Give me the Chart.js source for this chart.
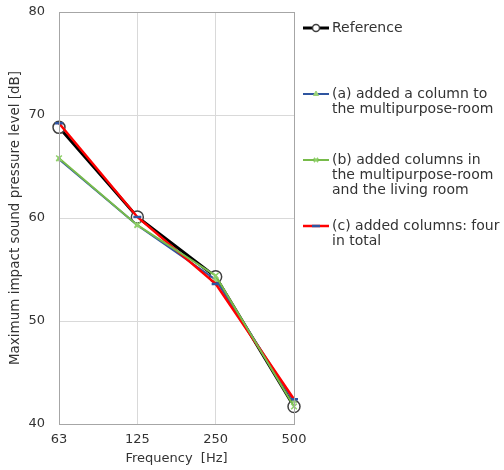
<!DOCTYPE html>
<html>
<head>
<meta charset="utf-8">
<script src="https://cdn.jsdelivr.net/npm/chart.js@4.4.1/dist/chart.umd.min.js"></script>
<style>
  html, body { margin: 0; padding: 0; background: #fff; }
</style>
</head>
<body>
<canvas id="myChart" width="504" height="470"></canvas>
<script>
const ctx = document.getElementById("myChart").getContext("2d");

// Values
const frequencies = ["63", "125", "250", "500"];
const reference = [68.8, 60.1, 54.3, 41.7];
const colA = [65.7, 59.3, 54.0, 42.2];
const colB = [65.8, 59.3, 54.4, 41.7];
const colC = [69.2, 60.1, 53.6, 42.4];

const legendLines = [
  ["Reference"],
  ["(a) added a column to", "the multipurpose-room"],
  ["(b) added columns in", "the multipurpose-room", "and the living room"],
  ["(c) added columns: four", "in total"],
];

const FONT = "DejaVu Sans";
const TEXT = "#333";

// legend on the right, drawn next to the plot area
const sideLegend = {
  id: "sideLegend",
  afterDraw(chart) {
    const c = chart.ctx;
    const area = chart.chartArea;
    const x0 = area.right + 9;
    c.save();
    c.font = "14px '" + FONT + "'";
    c.textBaseline = "middle";
    chart.data.datasets.forEach((ds, i) => {
      const y = area.top + 16 + i * 66;
      c.strokeStyle = ds.borderColor;
      c.lineWidth = ds.borderWidth;
      c.beginPath();
      c.moveTo(x0, y);
      c.lineTo(x0 + 26, y);
      c.stroke();
      c.fillStyle = ds.pointBackgroundColor;
      c.strokeStyle = ds.pointBorderColor;
      c.lineWidth = ds.pointBorderWidth;
      Chart.helpers.drawPoint(c, {
        pointStyle: ds.pointStyle,
        radius: ds.legendRadius,
        borderWidth: ds.pointBorderWidth,
      }, x0 + 13, y);
      c.fillStyle = TEXT;
      legendLines[i].forEach((t, k) => {
        c.fillText(t, x0 + 29, y + k * 15);
      });
    });
    c.restore();
  },
};

// box round the plot area
const frame = {
  id: "frame",
  afterDatasetsDraw(chart) {
    const a = chart.chartArea;
    const c = chart.ctx;
    c.save();
    c.strokeStyle = "#a6a6a6";
    c.lineWidth = 1;
    c.strokeRect(a.left + 0.5, a.top + 0.5, a.right - a.left, a.bottom - a.top);
    c.restore();
  },
};

const data = {
  labels: frequencies,
  datasets: [
    {
      label: "Reference",
      data: reference,
      borderColor: "#000000",
      borderWidth: 3,
      pointStyle: "circle",
      pointRadius: 6,
      legendRadius: 3.5,
      pointBackgroundColor: "#ffffff",
      pointBorderColor: "#404040",
      pointBorderWidth: 1.5,
      order: 3,
    },
    {
      label: "(a)",
      data: colA,
      borderColor: "#2f55a0",
      borderWidth: 2,
      pointStyle: "triangle",
      pointRadius: 3,
      legendRadius: 3,
      pointBackgroundColor: "#9bd27a",
      pointBorderColor: "#9bd27a",
      pointBorderWidth: 1,
      order: 2,
    },
    {
      label: "(b)",
      data: colB,
      borderColor: "#77bb4a",
      borderWidth: 2,
      pointStyle: "crossRot",
      pointRadius: 4,
      legendRadius: 3,
      pointBackgroundColor: "#8fd06a",
      pointBorderColor: "#8fd06a",
      pointBorderWidth: 1.5,
      order: 0,
    },
    {
      label: "(c)",
      data: colC,
      borderColor: "#ff0000",
      borderWidth: 2.5,
      pointStyle: "line",
      pointRadius: 4,
      legendRadius: 4,
      pointBackgroundColor: "#2f55a0",
      pointBorderColor: "#2f55a0",
      pointBorderWidth: 2.5,
      order: 1,
    },
  ],
};

const config = {
  type: "line",
  data: data,
  options: {
    responsive: false,
    animation: false,
    devicePixelRatio: 1,
    layout: {
      padding: { left: 0, right: 210, top: 12, bottom: 0 },
    },
    plugins: {
      legend: { display: false },
      tooltip: { enabled: false },
    },
    elements: {
      line: { tension: 0 },
    },
    scales: {
      x: {
        offset: false,
        grid: { color: "#d9d9d9", drawTicks: false },
        border: { color: "#a6a6a6" },
        ticks: {
          color: TEXT,
          font: { family: FONT, size: 13 },
          padding: 8,
          maxRotation: 0,
        },
        title: {
          display: true,
          text: "Frequency  [Hz]",
          color: TEXT,
          font: { family: FONT, size: 13 },
          padding: { top: 2, bottom: 4 },
        },
        afterFit: (scale) => {
          scale.height = 46;
          scale.paddingLeft = 0;
          scale.paddingRight = 0;
        },
      },
      y: {
        min: 40,
        max: 80,
        grid: { color: "#d9d9d9", drawTicks: false },
        border: { color: "#a6a6a6" },
        ticks: {
          stepSize: 10,
          color: TEXT,
          font: { family: FONT, size: 13 },
          padding: 14,
        },
        title: {
          display: true,
          text: "Maximum impact sound pressure level [dB]",
          color: TEXT,
          font: { family: FONT, size: 13.5 },
          padding: { top: 7, bottom: 4 },
        },
        afterFit: (scale) => {
          scale.width = 59;
          scale.paddingTop = 0;
          scale.paddingBottom = 0;
        },
      },
    },
  },
  plugins: [frame, sideLegend],
};

const myChart = new Chart(ctx, config);
</script>
</body>
</html>
